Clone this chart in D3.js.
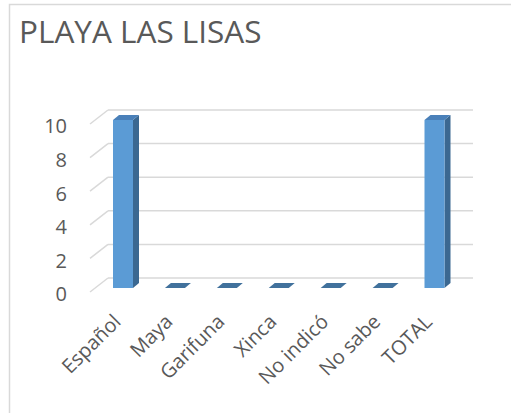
<!DOCTYPE html>
<html>
<head>
<meta charset="utf-8">
<script src="https://cdn.jsdelivr.net/npm/d3@7"></script>
<style>
  body { margin: 0; background: #fff; }
  text { font-family: "Open Sans", sans-serif; fill: #595959; }
</style>
</head>
<body>
<svg id="chart" width="511" height="413"></svg>
<script>
// data
var categories = ['Español', 'Maya', 'Garifuna', 'Xinca', 'No indicó', 'No sabe', 'TOTAL'];
var values = [10, 0, 0, 0, 0, 0, 10];
var yTicks = [0, 2, 4, 6, 8, 10];
var title = 'PLAYA LAS LISAS';

var svg = d3.select('#chart');

// chart border (only top & left visible)
svg.append('rect')
    .attr('x', 9.5).attr('y', 4.5)
    .attr('width', 600).attr('height', 500)
    .attr('fill', 'none')
    .attr('stroke', '#d9d9d9')
    .attr('stroke-width', 1.5);

// title
svg.append('text')
    .attr('x', 19).attr('y', 43)
    .style('font-size', '31.5px')
    .text(title);

// scales on the bar front plane
var x = d3.scalePoint().domain(categories).range([123, 434.5]);
var y = d3.scaleLinear().domain([0, 10]).range([288, 120]);
var barW = 20;

// depth offsets
var floorFront = [-5, 4], floorBack = [13, -10];
var barDepth = [6, -5];

// gridlines: back wall + floor diagonal
var grid = svg.append('g');
yTicks.forEach(function (t) {
    var yy = y(t);
    grid.append('line')
        .attr('x1', 108).attr('x2', 473)
        .attr('y1', yy + floorBack[1]).attr('y2', yy + floorBack[1])
        .attr('stroke', '#d9d9d9').attr('stroke-width', 1.5);
    grid.append('line')
        .attr('x1', 90).attr('y1', yy + floorFront[1])
        .attr('x2', 108).attr('y2', yy + floorBack[1])
        .attr('stroke', '#d9d9d9').attr('stroke-width', 1.5);
});

// y tick labels
svg.append('g').selectAll('text')
    .data(yTicks)
    .enter().append('text')
    .attr('x', 67)
    .attr('y', function (d) { return y(d) + 8; })
    .attr('text-anchor', 'end')
    .attr('dominant-baseline', 'middle')
    .style('font-size', '20px')
    .text(function (d) { return d; });

// bars (3d columns)
var bars = svg.append('g').selectAll('g')
    .data(categories.map(function (c, i) { return { cat: c, val: values[i] }; }))
    .enter().append('g');

bars.each(function (d) {
    var g = d3.select(this);
    var x0 = x(d.cat) - barW / 2, x1 = x0 + barW;
    var yt = y(d.val), yb = y(0);
    var dx = barDepth[0], dy = barDepth[1];
    if (d.val > 0) {
        // side
        g.append('path')
            .attr('d', 'M' + x1 + ',' + yt + 'L' + (x1 + dx) + ',' + (yt + dy) +
                'L' + (x1 + dx) + ',' + (yb + dy) + 'L' + x1 + ',' + yb + 'Z')
            .attr('fill', '#3b6891');
        // front
        g.append('rect')
            .attr('x', x0).attr('y', yt)
            .attr('width', barW).attr('height', yb - yt)
            .attr('fill', '#5b9bd5');
    }
    // top
    g.append('path')
        .attr('d', 'M' + x0 + ',' + yt + 'L' + x1 + ',' + yt +
            'L' + (x1 + dx) + ',' + (yt + dy) + 'L' + (x0 + dx) + ',' + (yt + dy) + 'Z')
        .attr('fill', d.val > 0 ? '#4a80b9' : '#41719c');
});

// category labels
svg.append('g').selectAll('text')
    .data(categories)
    .enter().append('text')
    .attr('transform', function (d) {
        return 'translate(' + (x(d) - 1) + ',' + 323 + ') rotate(-45)';
    })
    .attr('text-anchor', 'end')
    .style('font-size', '20px')
    .text(function (d) { return d; });
</script>
</body>
</html>
